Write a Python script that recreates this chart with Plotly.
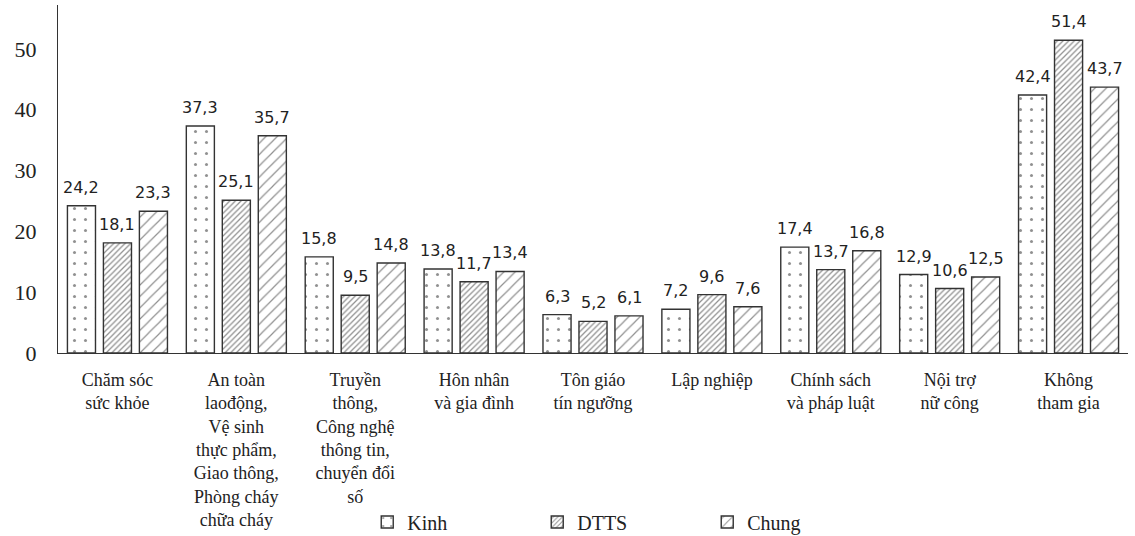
import plotly.graph_objects as go

categories = [
    "Chăm sóc<br>sức khỏe",
    "An toàn<br>laođộng,<br>Vệ sinh<br>thực phẩm,<br>Giao thông,<br>Phòng cháy<br>chữa cháy",
    "Truyền<br>thông,<br>Công nghệ<br>thông tin,<br>chuyển đổi<br>số",
    "Hôn nhân<br>và gia đình",
    "Tôn giáo<br>tín ngưỡng",
    "Lập nghiệp",
    "Chính sách<br>và pháp luật",
    "Nội trợ<br>nữ công",
    "Không<br>tham gia",
]
kinh = [24.2, 37.3, 15.8, 13.8, 6.3, 7.2, 17.4, 12.9, 42.4]
dtts = [18.1, 25.1, 9.5, 11.7, 5.2, 9.6, 13.7, 10.6, 51.4]
chung = [23.3, 35.7, 14.8, 13.4, 6.1, 7.6, 16.8, 12.5, 43.7]
series_names = ["Kinh", "DTTS", "Chung"]

SERIF = "Liberation Serif, Times New Roman, serif"

patterns = [
    dict(shape=".", size=11, solidity=0.06),
    dict(shape="/", size=4, solidity=0.32),
    dict(shape="/", size=8, solidity=0.15),
]
values = [kinh, dtts, chung]

fig = go.Figure()
for name, vals, pat in zip(series_names, values, patterns):
    fig.add_trace(go.Bar(
        name=name, x=categories, y=vals,
        marker=dict(color="white", line=dict(color="#333333", width=1.4),
                    pattern=dict(fgcolor="#222222", bgcolor="white", fillmode="overlay", **pat)),
        cliponaxis=False,
    ))

# value labels above each bar
slot_px = 36
for j, vals in enumerate(values):
    for cat, v in zip(categories, vals):
        fig.add_annotation(
            x=cat, y=v, xref="x", yref="y", xshift=(j - 1) * slot_px, yshift=7,
            yanchor="bottom", showarrow=False,
            text=f"{v:.1f}".replace(".", ","),
            font=dict(family="DejaVu Sans", size=16, color="#222222"),
        )

fig.update_layout(
    width=1135, height=536,
    margin=dict(l=58, r=7, t=5, b=183),
    paper_bgcolor="white", plot_bgcolor="white",
    barmode="group", bargap=0.092, bargroupgap=0.22,
    separators=",.",
    font=dict(family=SERIF, size=18, color="#222222"),
    showlegend=True,
    legend=dict(orientation="h", x=0.289, xanchor="left",
                yref="container", y=0.026, yanchor="middle",
                font=dict(family=SERIF, size=20),
                entrywidth=125, entrywidthmode="pixels", itemwidth=30),
)
fig.update_xaxes(showline=True, linecolor="#333333", linewidth=1.2, ticks="",
                 automargin=False, ticklabelstandoff=10,
                 tickfont=dict(family=SERIF, size=18))
fig.update_yaxes(range=[0, 57.2], showline=True, linecolor="#333333", linewidth=1.2,
                 showgrid=False, zeroline=False, ticks="", dtick=10,
                 automargin=False, ticklabelstandoff=16,
                 tickfont=dict(family=SERIF, size=22))

fig.write_html("out.html", config={"displayModeBar": False},
               post_script="document.body.style.margin='0';")
